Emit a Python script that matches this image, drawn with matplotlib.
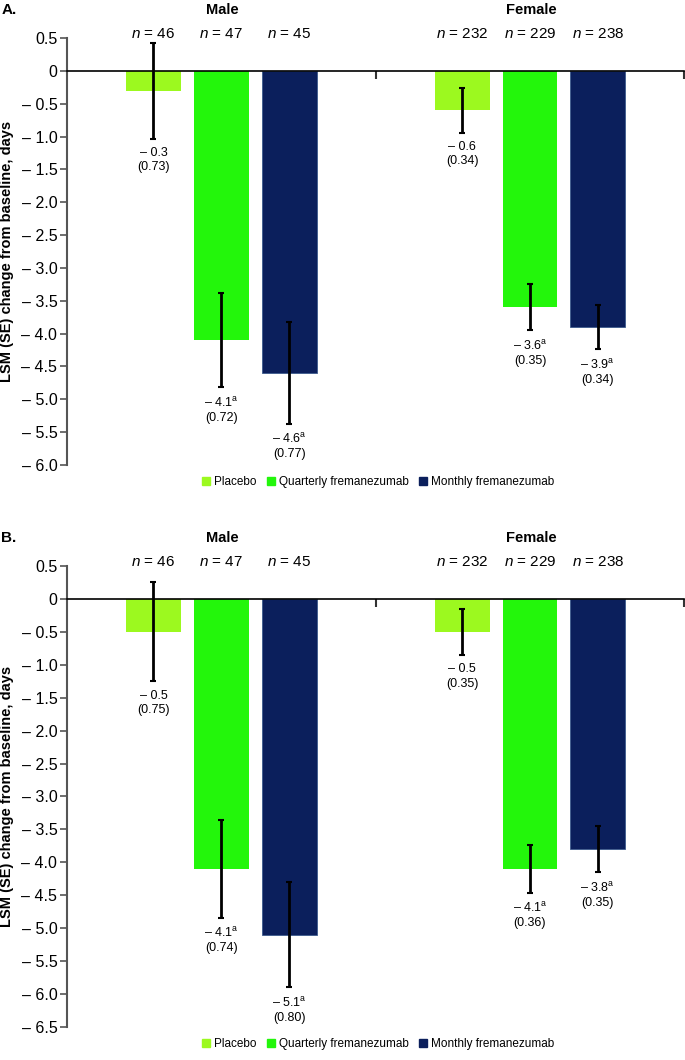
import matplotlib
matplotlib.use("Agg")
import matplotlib.pyplot as plt
import matplotlib.patches as patches
import numpy as np

plt.rcParams['font.family'] = ['Liberation Sans', 'DejaVu Sans']
plt.rcParams['mathtext.fontset'] = 'custom'
plt.rcParams['mathtext.rm'] = 'Liberation Sans'
plt.rcParams['mathtext.it'] = 'Liberation Sans:italic'
plt.rcParams['mathtext.bf'] = 'Liberation Sans:bold'

# data
groups = ["Male", "Female"]
treatments = ["Placebo", "Quarterly fremanezumab", "Monthly fremanezumab"]
colors = ["#9cf91f", "#23f60b", "#0b1f5c"]

n_male = [46, 47, 45]
n_female = [232, 229, 238]

a_male_lsm = [-0.3, -4.1, -4.6]
a_male_se = [0.73, 0.72, 0.77]
a_female_lsm = [-0.6, -3.6, -3.9]
a_female_se = [0.34, 0.35, 0.34]

b_male_lsm = [-0.5, -4.1, -5.1]
b_male_se = [0.75, 0.74, 0.80]
b_female_lsm = [-0.5, -4.1, -3.8]
b_female_se = [0.35, 0.36, 0.35]

signif = [False, True, True]

panels = [
    {"label": "A.", "lsm": [a_male_lsm, a_female_lsm], "se": [a_male_se, a_female_se],
     "ymin": -6.0, "rect": (38, 465)},
    {"label": "B.", "lsm": [b_male_lsm, b_female_lsm], "se": [b_male_se, b_female_se],
     "ymin": -6.5, "rect": (566, 1027)},
]

W, H = 685, 1060
fig = plt.figure(figsize=(W / 100, H / 100), dpi=100)

left_px = 67
offsets = [-0.22, 0.0, 0.22]
bar_w = 0.178
centers = [0.5, 1.5]

def fmt_tick(v):
    if abs(v) < 1e-9:
        return "0"
    if v < 0:
        return "\u2013 %.1f" % abs(v)
    return "%.1f" % v

for p in panels:
    top_px, bot_px = p["rect"]
    ax = fig.add_axes([left_px / W, 1 - bot_px / H, 1 - left_px / W - 0.001, (bot_px - top_px) / H])
    ax.set_xlim(0, 2)
    ax.set_ylim(p["ymin"], 0.5)

    for g in range(2):
        ns = n_male if g == 0 else n_female
        for t in range(3):
            x = centers[g] + offsets[t]
            m = p["lsm"][g][t]
            s = p["se"][g][t]
            if t == 2:
                ax.bar(x, m, width=bar_w, color=colors[t], edgecolor="#3c5a8c",
                       linewidth=0.6, zorder=2)
            else:
                ax.bar(x, m, width=bar_w, color=colors[t], linewidth=0, zorder=2)
            ax.errorbar(x, m, yerr=s, fmt="none", ecolor="black", elinewidth=2,
                        capsize=2.5, capthick=1.5, zorder=3)
            val = "\u2013 %.1f" % abs(m)
            if signif[t]:
                val += r"$^{\mathrm{a}}$"
            ax.text(x, m - s - 0.13, val + "\n(%.2f)" % s, ha="center", va="top",
                    fontsize=9, linespacing=1.25, zorder=4)
            ax.annotate(r"$n$ = %d" % ns[t], xy=(x, 1), xycoords=("data", "axes fraction"),
                        xytext=(0, 4), textcoords="offset pixels",
                        ha="center", va="center", fontsize=11)
        ax.annotate(groups[g], xy=(centers[g] + 0.003, 1), xycoords=("data", "axes fraction"),
                    xytext=(0, 28), textcoords="offset pixels",
                    ha="center", va="center", fontsize=10.5, fontweight="bold")

    ax.spines["top"].set_visible(False)
    ax.spines["right"].set_visible(False)
    ax.spines["left"].set_color("#555555")
    ax.spines["left"].set_linewidth(1.5)
    ax.spines["bottom"].set_position(("data", 0))
    ax.spines["bottom"].set_linewidth(1.2)
    ax.spines["bottom"].set_zorder(5)
    ax.set_xticks([1.0, 2.0])
    ax.set_xticklabels([])
    ax.tick_params(axis="x", direction="out", length=6, width=1.5, color="#333333")
    yt = np.arange(p["ymin"], 0.51, 0.5)
    ax.set_yticks(yt)
    ax.set_yticklabels([fmt_tick(v) for v in yt], fontsize=11.5)
    ax.tick_params(axis="y", length=5, width=1.2, color="#555555", pad=2)
    ax.set_ylabel("LSM (SE) change from baseline, days", fontsize=10.5, fontweight="bold", labelpad=5)

    fig.text(0.002, 1 - (top_px - 28) / H, p["label"], fontsize=11, fontweight="bold",
             ha="left", va="center")

    handles = [patches.Patch(facecolor=c, edgecolor=c) for c in colors]
    fig.legend(handles, treatments, loc="center", ncol=3, frameon=False,
               bbox_to_anchor=(378 / W, 1 - (bot_px + 17) / H), fontsize=8.5,
               handlelength=0.7, handleheight=0.7, handletextpad=0.3, columnspacing=0.9)

fig.savefig("out.png", dpi=100)
